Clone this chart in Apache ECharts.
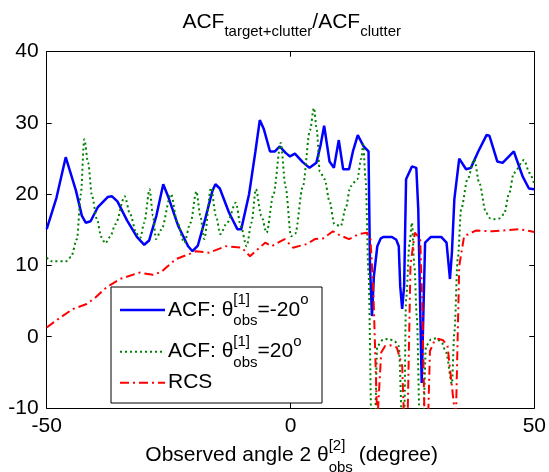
<!DOCTYPE html>
<html><head><meta charset="utf-8">
<script src="https://cdn.jsdelivr.net/npm/echarts@6/dist/echarts.min.js"></script>
<style>html,body{margin:0;padding:0;background:#fff}#c{width:549px;height:472px}</style>
</head><body><div id="c"></div>
<script>
// ---- data (x = observed angle, y = dB) ----
const acfMinus20 = [[-50,15.1],[-48,19.5],[-46.1,25.2],[-44,20.5],[-42.8,17],[-42,16.0],[-41,16.2],[-39.5,18.2],[-37.5,19.6],[-36.6,19.7],[-35.5,19],[-33.5,16.3],[-31.5,14],[-30,12.9],[-29,13.5],[-27.5,17],[-26.1,21.4],[-25,19.5],[-23,15.5],[-21,12.7],[-20.1,12.0],[-19,12.8],[-17.5,16.5],[-16,20.5],[-15.4,21.4],[-14.5,20.8],[-12.6,17.4],[-10.9,15.1],[-10.1,15.1],[-8.5,20],[-7.2,26],[-6.3,30.4],[-5.5,29.2],[-4.2,26.0],[-3.2,26.0],[-2.2,26.7],[-1,25.8],[-0.1,25.3],[0.9,25.7],[2.5,24.5],[3.9,23.7],[5.3,24.4],[6.2,27],[6.9,29.6],[8.0,24.6],[8.9,23.7],[9.9,27.6],[10.8,23.5],[12.0,23.5],[12.8,26],[13.8,28.3],[15.0,26.7],[16.0,26.0],[16.3,10],[16.7,2.9],[17.1,8.5],[17.8,12.7],[18.5,13.8],[19.1,14.0],[20.8,14.0],[21.7,13.6],[22.2,12.7],[22.5,7.1],[22.9,3.9],[23.3,7.1],[23.7,22.1],[24.9,23.9],[25.8,23.7],[26.2,17.9],[26.9,-6.5],[27.6,13.2],[28.8,14.0],[30.9,14.0],[32.0,13.2],[32.7,8.1],[33.1,11.8],[33.6,19.3],[34.6,25.0],[36.0,23.5],[37.0,23.7],[38.5,26],[40.2,28.3],[40.8,28.2],[42.4,24.6],[43.5,24.4],[45.8,26.0],[47.6,22.5],[48.9,20.8],[50,20.7]];
const acfPlus20 = [[-50,11.1],[-49,10.6],[-46,10.6],[-45,11.2],[-43.8,13.7],[-43,20],[-42.3,27.7],[-41.5,24.4],[-40.7,19.7],[-39.7,16.5],[-38.8,14],[-38,13.1],[-37,14],[-35.9,15.8],[-34,19.7],[-32.9,17.2],[-31.6,14.5],[-30.8,13.9],[-30,16],[-28.9,20.7],[-28.2,17],[-27.6,13.7],[-26.5,15],[-24.5,20.0],[-23.2,16],[-21.8,13.2],[-20.5,16],[-19.3,20.4],[-18.5,17],[-17.7,13.7],[-16.3,20.9],[-15.3,17],[-14.4,14.4],[-13,16],[-11.2,18.8],[-10.2,15.5],[-9.0,12.7],[-8,16],[-7.1,20.7],[-6,17],[-4.9,14.6],[-3.5,20],[-2.0,27.2],[-1,21],[0.1,14.1],[1,14.5],[2.5,21],[4,29],[4.8,32.1],[5.4,29],[6.0,23.2],[7.0,22.1],[8,19],[9.0,15.8],[10.3,15.5],[11.3,18],[12.3,21.1],[13.7,22.1],[14.5,25],[14.9,27.0],[15.4,22.1],[16.0,9.0],[16.6,-12],[17.3,-12],[17.8,-1.3],[19,-0.4],[20.1,-0.3],[21.3,-0.6],[22.2,-1.3],[22.9,-12],[23.3,-12],[23.7,5.3],[24.4,13],[24.9,16.0],[25.4,10],[25.9,2.9],[26.5,-12],[27.2,-12],[27.8,-1.3],[28.8,-0.4],[29.9,-0.2],[31,-0.8],[31.9,-2.2],[33.1,-6.6],[33.6,0.6],[34.3,10.9],[35.0,17.9],[36.3,22.1],[37.7,24.9],[38.7,21.6],[40.1,17.4],[41,16.6],[41.8,16.5],[42.8,16.6],[43.8,17.2],[44.8,20],[45.8,23.0],[47.9,24.8],[49,23],[50,21.4]];
const rcs = [[-50,1.3],[-47,2.8],[-44.6,3.9],[-41.8,4.6],[-40,5.5],[-37.8,6.9],[-35,8.1],[-31,9.0],[-28.2,8.7],[-26.5,9.1],[-25.5,9.7],[-23.5,10.9],[-20.8,11.6],[-19.4,12.0],[-16.7,11.8],[-13.3,12.7],[-10,12.5],[-8.3,11.3],[-5.2,13.2],[-3.9,12.7],[-1.2,13.7],[0.5,12.5],[3.3,13.0],[5.0,13.7],[6.7,13.8],[8.7,14.8],[9.6,14.4],[12.0,13.7],[14.0,14.4],[15.7,14.6],[16.4,13.7],[17.0,6.2],[17.8,-12],[18.2,-12],[18.6,-2.2],[19.4,-1.3],[20.4,-1.2],[21.8,-1.5],[22.9,-4.1],[23.3,-12],[24.0,-12],[24.6,10],[25.5,14.6],[26.6,13.7],[27.0,5.3],[27.5,-12],[28.2,-12],[28.6,-2],[29.5,-0.6],[30.4,-0.3],[31.3,-0.5],[32.2,-1.3],[33.9,-12],[34.2,-12],[34.6,9.9],[35.6,14.1],[38.0,14.9],[41.4,14.8],[46.9,15.1],[50,14.7]];
const xRange = [-50, 50];
const yRange = [-10, 40];
const xStep = 50, yStep = 10;

// ---- layout helpers ----
const FONT = '"Liberation Sans", Arial, Helvetica, sans-serif';
const FS = 21, SS = 15;
const mctx = document.createElement('canvas').getContext('2d');
function tw(s, size) { mctx.font = size + 'px ' + FONT; return mctx.measureText(s).width; }
function txt(s, x, y, size) {
  return { type: 'text', x: x, y: y, z: 100,
    style: { text: s, font: size + 'px ' + FONT, fill: '#000', align: 'left', verticalAlign: 'middle' } };
}
function mathText(segs, x, y, size, sub, supOff, subOff) {
  const els = []; let cx = x;
  for (const s of segs) {
    if (typeof s === 'string') { els.push(txt(s, cx, y, size)); cx += tw(s, size); }
    else {
      let w = 0;
      if (s.sup) { els.push(txt(s.sup, cx, y + supOff, sub)); w = Math.max(w, tw(s.sup, sub)); }
      if (s.sub) { els.push(txt(s.sub, cx, y + subOff, sub)); w = Math.max(w, tw(s.sub, sub)); }
      cx += w;
    }
  }
  return { els, width: cx - x };
}
function mathWidth(segs, size, sub) { return mathText(segs, 0, 0, size, sub, 0, 0).width; }

const chart = echarts.init(document.getElementById('c'), null, { renderer: 'canvas' });
const W = 549;
const G = { left: 46.7, right: 12.3, top: 51.7, bottom: 64 };
const plotCx = G.left + (W - G.left - G.right) / 2;

const titleSegs = ['ACF', { sub: 'target+clutter' }, '/ACF', { sub: 'clutter' }];
const tW = mathWidth(titleSegs, FS, SS);
const title = mathText(titleSegs, plotCx - tW / 2, 22, FS, SS, -9, 10);

const xlSegs = ['Observed angle 2 θ', { sup: '[2]', sub: 'obs' }, ' (degree)'];
const xW = mathWidth(xlSegs, FS, SS);
const xlab = mathText(xlSegs, plotCx - xW / 2, 455, FS, SS, -9, 13);

const legendEls = [];
legendEls.push({ type: 'rect', z: 99, shape: { x: 111, y: 287, width: 211, height: 116 },
  style: { fill: '#fff', stroke: '#000', lineWidth: 1 } });
const rows = [
  { y: 310, color: '#0000ff', dash: null, w: 2.5, segs: ['ACF: θ', { sup: '[1]', sub: 'obs' }, '=-20', { sup: 'o' }] },
  { y: 351.7, color: '#008000', dash: [2, 3], w: 2, segs: ['ACF: θ', { sup: '[1]', sub: 'obs' }, '=20', { sup: 'o' }] },
  { y: 382.7, color: '#ff0000', dash: [9, 4, 2, 4], w: 2, segs: ['RCS'] }
];
rows.forEach(r => {
  legendEls.push({ type: 'line', z: 100, shape: { x1: 120, y1: r.y, x2: 165, y2: r.y },
    style: { stroke: r.color, lineWidth: r.w, lineDash: r.dash } });
  legendEls.push(...mathText(r.segs, 168, r.y, FS, SS, -10, 11).els);
});

function axisCommon(extra) {
  return Object.assign({
    type: 'value',
    axisLine: { show: true, onZero: false, lineStyle: { color: '#000', width: 1 } },
    axisTick: { show: true, inside: true, length: 5, lineStyle: { color: '#000' } },
    splitLine: { show: false }
  }, extra);
}

chart.setOption({
  animation: false,
  backgroundColor: '#fff',
  grid: { left: G.left, right: G.right, top: G.top, bottom: G.bottom, show: false },
  xAxis: [
    axisCommon({ min: xRange[0], max: xRange[1], interval: xStep, position: 'bottom',
      axisLabel: { color: '#000', fontSize: FS, fontFamily: FONT, margin: 8 } }),
    axisCommon({ min: xRange[0], max: xRange[1], interval: xStep, position: 'top', axisLabel: { show: false } })
  ],
  yAxis: [
    axisCommon({ min: yRange[0], max: yRange[1], interval: yStep, position: 'left',
      axisLabel: { color: '#000', fontSize: FS, fontFamily: FONT, margin: 8 } }),
    axisCommon({ min: yRange[0], max: yRange[1], interval: yStep, position: 'right', axisLabel: { show: false } })
  ],
  series: [
    { name: 'ACF θobs=-20', type: 'line', data: acfMinus20, showSymbol: false, symbol: 'none', clip: true,
      lineStyle: { color: '#0000ff', width: 2.5 }, z: 3 },
    { name: 'ACF θobs=20', type: 'line', data: acfPlus20, showSymbol: false, symbol: 'none', clip: true,
      smooth: 0.3, smoothMonotone: 'x',
      lineStyle: { color: '#008000', width: 2, type: [2, 3] }, z: 4 },
    { name: 'RCS', type: 'line', data: rcs, showSymbol: false, symbol: 'none', clip: true,
      lineStyle: { color: '#ff0000', width: 2, type: [9, 4, 2, 4] }, z: 5 }
  ],
  graphic: [...title.els, ...xlab.els, ...legendEls]
});
</script></body></html>
